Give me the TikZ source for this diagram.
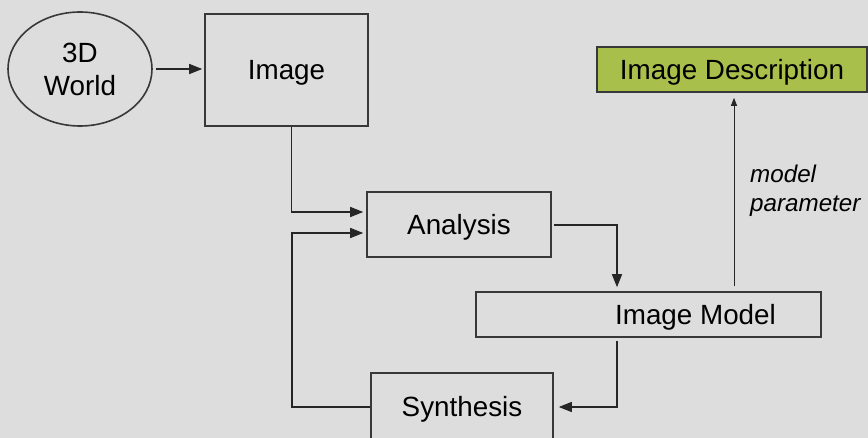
\documentclass[tikz,border=0pt]{standalone}
\usepackage{fontspec}
\setmainfont{Liberation Sans}
\usetikzlibrary{shapes.geometric,arrows.meta}
\definecolor{bg}{HTML}{DDDDDD}
\definecolor{descgreen}{HTML}{A9BF4C}
\definecolor{edge}{HTML}{383838}
\begin{document}
\begin{tikzpicture}[x=1pt,y=-1pt,
  box/.style={draw=edge,line width=1.6pt,inner sep=0pt,font=\fontsize{27.8}{33}\selectfont},
  onel/.style={text height=20pt,text depth=0pt},
  conn/.style={line width=1.4pt,draw=black!85,-{Triangle[length=13pt,width=10pt]}},
  thinconn/.style={line width=1pt,draw=black!85,-{Triangle[length=8pt,width=6pt]}},
  lbl/.style={inner sep=0pt,font=\fontsize{24.2}{29}\selectfont\itshape,align=left}]
\fill[bg] (0,0) rectangle (868,438);
\clip (0,0) rectangle (868,438);
\node[box,ellipse,minimum width=144,minimum height=114,align=center] (world) at (80,69) {3D\\World};
\node[box,onel,rectangle,minimum width=163,minimum height=112] (image) at (286.5,70) {Image};
\node[box,onel,rectangle,minimum width=184,minimum height=65] (analysis) at (459,224.5) {Analysis};
\node[box,onel,rectangle,minimum width=345,minimum height=45] (model) at (648.5,314.5) {\hspace*{94pt}Image Model};
\node[box,onel,rectangle,minimum width=182,minimum height=68] (synth) at (462,407) {Synthesis};
\node[box,onel,rectangle,fill=descgreen,minimum width=270,minimum height=45] (desc) at (732,69.5) {Image Description};
\node[lbl,anchor=west] (param) at (750,191) {model\\parameter};
\coordinate (loopbot) at (292,407);
\draw[conn,shorten <=3pt,shorten >=2pt] (world.east) -- (world.east -| image.west);
\draw[conn] ([xshift=87pt]image.south west) |- ([yshift=12.5pt,xshift=-3pt]analysis.west);
\draw[conn] (synth.west) -- (loopbot) |- ([yshift=-8.5pt,xshift=-3pt]analysis.west);
\draw[conn] ([xshift=2pt,yshift=-0.5pt]analysis.east) -| ([xshift=-31.5pt,yshift=4pt]model.north);
\draw[conn] ([xshift=-31.5pt,yshift=-3pt]model.south) |- ([xshift=5pt]synth.east);
\draw[thinconn] ([xshift=85.5pt,yshift=5pt]model.north) -- ([xshift=2pt,yshift=-5pt]desc.south);
\end{tikzpicture}
\end{document}
